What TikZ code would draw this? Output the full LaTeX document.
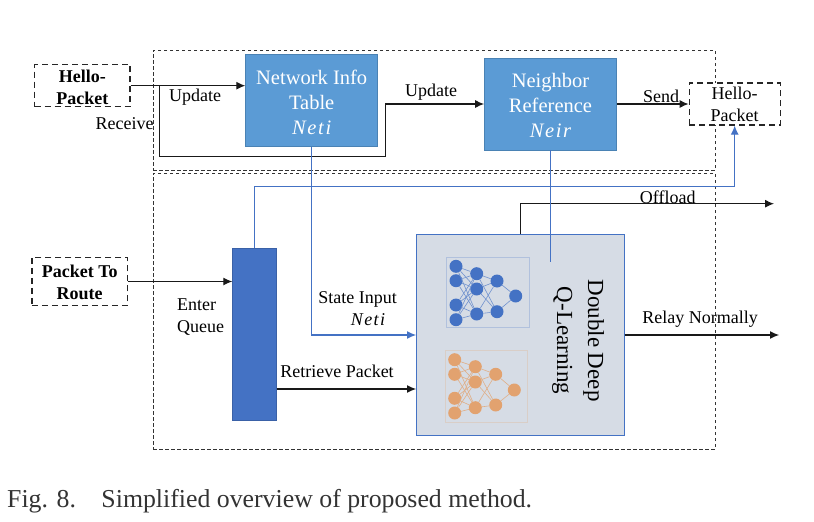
\documentclass[tikz,border=0pt]{standalone}
\usepackage{fontspec}
\setmainfont{Liberation Serif}
\usetikzlibrary{arrows.meta}
\definecolor{boxblue}{HTML}{5B9BD5}
\definecolor{boxedge}{HTML}{4A82B4}
\definecolor{qblue}{HTML}{4472C4}
\definecolor{panel}{HTML}{D6DCE5}
\definecolor{orangeN}{HTML}{E2A26F}
\definecolor{blueN}{HTML}{4472C4}
\newcommand{\mvar}[1]{{\itshape\addfontfeatures{LetterSpace=8}#1}}
\tikzset{
  region/.style={draw=black!80,dash pattern=on 3.5pt off 2.5pt,line width=0.9pt},
  packet/.style={draw=black!85,dash pattern=on 6pt off 4pt,line width=1.2pt,inner sep=0pt,align=center,font=\fontsize{18}{22}\selectfont},
  packetinner/.style={inner sep=0pt,align=center,font=\fontsize{18}{22}\selectfont},
  tablebox/.style={draw=boxedge,fill=boxblue,line width=0.8pt,inner sep=0pt,minimum width=132pt,minimum height=92pt},
  tabletext/.style={inner sep=0pt,text=white,align=center,font=\fontsize{20.5}{25}\selectfont},
  flow/.style={draw=black!90,line width=1.1pt,-{Latex[length=9pt,width=8pt]}},
  bluelink/.style={draw=qblue,line width=1.1pt},
  bluearrow/.style={bluelink,-{Latex[length=9pt,width=8pt]}},
  lbl/.style={font=\fontsize{18}{22}\selectfont,inner sep=0pt,align=center},
  nnb/.style={circle,fill=blueN,inner sep=0pt,minimum size=13pt},
  nno/.style={circle,fill=orangeN,inner sep=0pt,minimum size=13pt},
  nnedgeb/.style={draw=blueN!70!panel,line width=0.6pt},
  nnedgeo/.style={draw=orangeN!80!panel,line width=0.6pt},
}
\begin{document}
\begin{tikzpicture}[x=1pt,y=-1pt]
\useasboundingbox (0,0) rectangle (814,522);
% regions
\node[region,minimum width=562pt,minimum height=120pt,inner sep=0pt] (top) at (434,110) {};
\node[region,minimum width=562pt,minimum height=276pt,inner sep=0pt] (bottom) at (434,311) {};
% main boxes
\node[tablebox] (neti) at (311.7,100.8) {};
\node[tabletext] (netitext) at (311.7,102.5) {Network Info\\Table\\\mvar{Neti}};
\node[tablebox] (neir) at (550.5,104) {};
\node[tabletext] (neirtext) at (550.5,105.5) {Neighbor\\Reference\\\mvar{Neir}};
\node[packet,minimum width=95.5pt,minimum height=42pt] (hello) at (82.3,85.7) {};
\node[packetinner,font=\fontsize{18}{22}\selectfont\bfseries] (hellotext) at (82.3,87) {Hello-\\Packet};
\node[packet,fill=white,minimum width=91pt,minimum height=42pt] (hello2) at (734.7,104) {};
\node[packetinner] (hello2text) at (734.7,104.5) {Hello-\\Packet};
\node[packet,minimum width=95.5pt,minimum height=48.5pt] (route) at (79.7,281.5) {};
\node[packetinner,font=\fontsize{18}{22}\selectfont\bfseries] (routetext) at (79.7,282.5) {Packet To\\Route};
\node[draw=qblue!85!black,fill=qblue,line width=0.8pt,inner sep=0pt,minimum width=44pt,minimum height=172pt] (queue) at (254.7,334.2) {};
\node[draw=qblue,fill=panel,line width=1.4pt,inner sep=0pt,minimum width=208pt,minimum height=201.5pt] (dql) at (520.7,335) {};
% networks
\node[draw=blueN!25!panel,inner sep=0pt,minimum width=83pt,minimum height=70pt] (bluepanel) at (487.2,292.3) {};
\node[draw=orangeN!25!panel,inner sep=0pt,minimum width=82pt,minimum height=71.4pt] (orangepanel) at (485.7,386) {};
\foreach \n/\x/\y in {a1/456/266.3,a2/456/280.7,a3/456/305,a4/456/319.7,b1/476.7/273.7,b2/476.7/289,b3/476.7/314,c1/497/281,c2/497/311.7,d1/515.7/296}
  \node[nnb] (B\n) at (\x,\y) {};
\foreach \n/\x/\y in {a1/454.7/359.7,a2/454.7/374.3,a3/454.7/398.3,a4/454.7/413,b1/475.3/366.7,b2/475.3/382,b3/475.3/407.7,c1/495.7/374.3,c2/495.7/405,d1/514.3/390}
  \node[nno] (O\n) at (\x,\y) {};
\foreach \a in {a1,a2,a3,a4} \foreach \b in {b1,b2,b3} {
  \draw[nnedgeb] (B\a) -- (B\b);
  \draw[nnedgeo] (O\a) -- (O\b);}
\foreach \a in {b1,b2,b3} \foreach \b in {c1,c2} {
  \draw[nnedgeb] (B\a) -- (B\b);
  \draw[nnedgeo] (O\a) -- (O\b);}
\foreach \a in {c1,c2} {
  \draw[nnedgeb] (B\a) -- (Bd1);
  \draw[nnedgeo] (O\a) -- (Od1);}
% connectors
\coordinate (branch) at (159.3,85.7);
\coordinate (busL) at (159.3,156.7);
\coordinate (busR) at (385.7,156.7);
\coordinate (busT) at (385.7,104);
\draw[flow] (hello.east) -- (hello.east -| neti.west);
\draw[flow] (branch) -- (busL) -- (busR) -- (busT) -- (neir.west);
\draw[flow] (neir.east) -- (hello2.west);
\draw[flow] (route.east) -- (route.east -| queue.west);
\coordinate (retrieve) at (276.7,389);
\draw[flow] (retrieve) -- (retrieve -| dql.west);
\coordinate (relay) at (624.7,335);
\coordinate (relayEnd) at (779,335);
\draw[flow] (relay) -- (relayEnd);
\coordinate (offStart) at (520.3,234.3);
\coordinate (offBend) at (520.3,203.7);
\coordinate (offEnd) at (774,203.7);
\draw[flow] (offStart) -- (offBend) -- (offEnd);
\coordinate (qBend) at (254.7,186.7);
\coordinate (hBend) at (734.7,186.7);
\draw[bluearrow] (queue.north) -- (qBend) -- (hBend) -- (hello2.south);
\coordinate (netiBend) at (311.7,335);
\draw[bluearrow] (neti.south) -- (netiBend) -- (netiBend -| dql.west);
\coordinate (neirEnd) at (550.5,262);
\draw[bluelink] (neir.south) -- (neirEnd);
% labels
\node[lbl] (lupdate1) at (195,97) {Update};
\node[lbl] (lupdate2) at (431,92) {Update};
\node[lbl] (lreceive) at (124.7,124) {Receive};
\node[lbl] (lsend) at (661,96.5) {Send};
\node[lbl] (loffload) at (667.7,197) {Offload};
\node[lbl,align=left,anchor=west] (lenter) at (177,317) {Enter\\Queue};
\node[lbl] (lstate) at (357.5,299) {State Input};
\node[lbl] (lneti) at (368,320) {\mvar{Neti}};
\node[lbl] (lretrieve) at (337,371.5) {Retrieve Packet};
\node[lbl] (lrelay) at (700,319.5) {Relay Normally};
\node[lbl,rotate=-90,font=\fontsize{23}{31}\selectfont] (ldouble) at (578,340.5) {Double Deep\\Q-Learning};
\node[anchor=base west,inner sep=0pt,text=black!80,font=\fontsize{25.8}{30}\selectfont] (caption) at (7,507) {Fig. 8.\hspace{25.5pt}Simplified overview of proposed method.};
\end{tikzpicture}
\end{document}
